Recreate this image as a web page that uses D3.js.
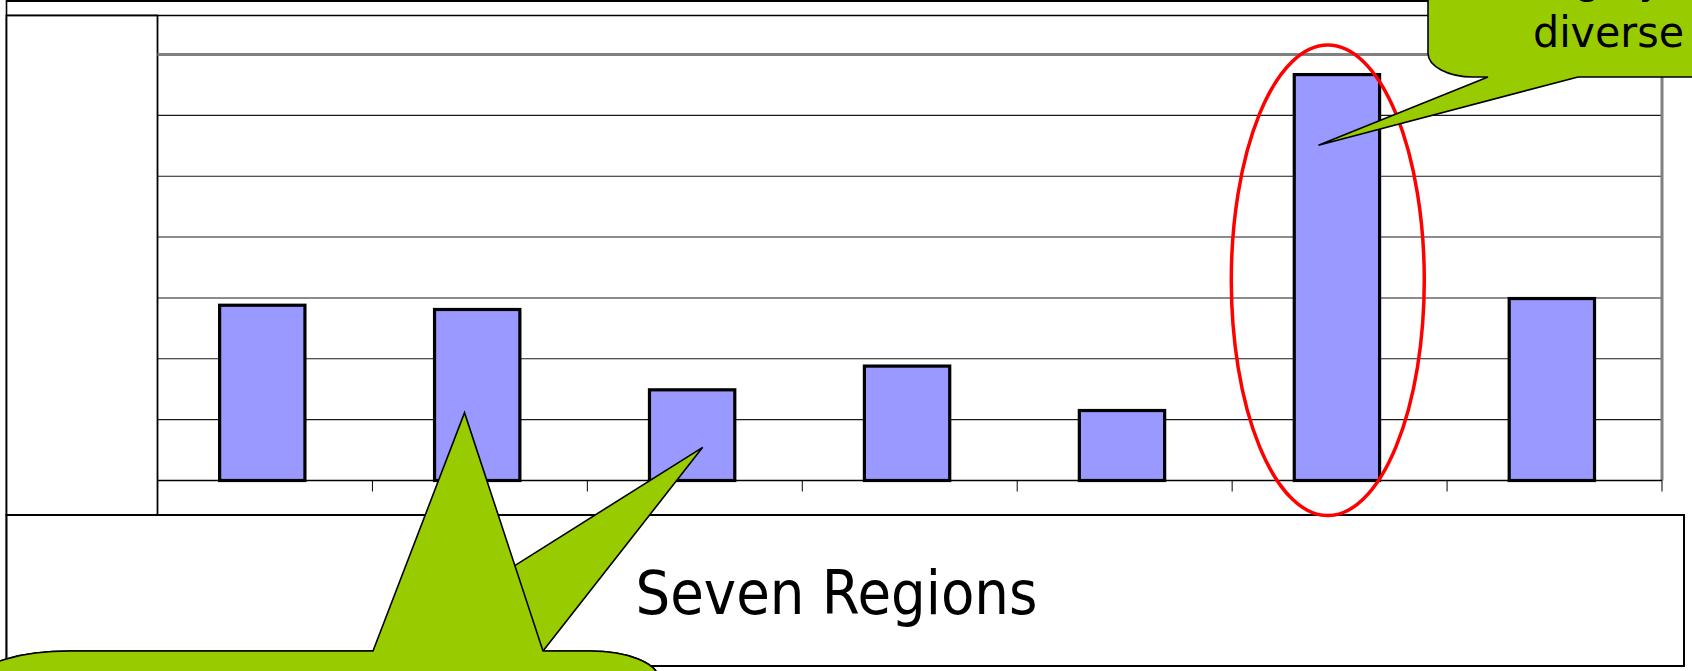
<!DOCTYPE html>
<html>
<head>
<meta charset="utf-8">
<script src="https://cdn.jsdelivr.net/npm/d3@7/dist/d3.min.js"></script>
<style>
  html, body { margin: 0; padding: 0; background: #fff; overflow: hidden; }
  svg { display: block; }
</style>
</head>
<body>
<svg id="chart" width="1692" height="671"></svg>
<script>
// Seven regions, one bar each
const categories = ["R1", "R2", "R3", "R4", "R5", "R6", "R7"];
const values = [28.8, 28.1, 14.9, 18.8, 11.5, 66.7, 29.9];
const yTicks = [0, 10, 20, 30, 40, 50, 60, 70];
const axisTitle = "Seven Regions";
const noteTop = ["Highly", "diverse"];

(function () {
  const W = 1692, H = 671;
  const plot = { left: 157.5, right: 1662, top: 54.5, bottom: 480.5 };

  const svg = d3.select("#chart");
  const font = "'DejaVu Sans', Tahoma, Verdana, sans-serif";

  const x = d3.scaleBand().domain(categories).range([plot.left, plot.right]).padding(0);
  const y = d3.scaleLinear().domain([0, 70]).range([plot.bottom, plot.top]);
  const step = x.step();

  // frame lines
  svg.append("line").attr("x1", 6.5).attr("x2", W).attr("y1", 1).attr("y2", 1)
    .attr("stroke", "#000").attr("stroke-width", 2);
  svg.append("line").attr("x1", 6.5).attr("x2", W).attr("y1", 15.5).attr("y2", 15.5)
    .attr("stroke", "#000").attr("stroke-width", 1.6);
  svg.append("line").attr("x1", 6.5).attr("x2", 6.5).attr("y1", 0).attr("y2", H)
    .attr("stroke", "#000").attr("stroke-width", 1.6);

  // box over the value axis
  svg.append("rect").attr("x", 6.5).attr("y", 15.5).attr("width", plot.left - 6.5).attr("height", 515 - 15.5)
    .attr("fill", "#fff").attr("stroke", "#000").attr("stroke-width", 1.8);

  // gridlines
  const grid = svg.append("g");
  grid.selectAll("line.g").data(yTicks.filter(t => t > 0 && t < 70)).join("line")
    .attr("class", "g")
    .attr("x1", plot.left).attr("x2", plot.right)
    .attr("y1", d => y(d)).attr("y2", d => y(d))
    .attr("stroke", "#1a1a1a").attr("stroke-width", 1.1);
  // top border of plot area (gray)
  grid.append("line")
    .attr("x1", plot.left).attr("x2", plot.right)
    .attr("y1", y(70)).attr("y2", y(70))
    .attr("stroke", "#808080").attr("stroke-width", 3);
  // right border of plot area (gray)
  grid.append("line")
    .attr("x1", plot.right).attr("x2", plot.right)
    .attr("y1", y(70)).attr("y2", y(0))
    .attr("stroke", "#808080").attr("stroke-width", 3);
  // baseline
  grid.append("line")
    .attr("x1", plot.left).attr("x2", plot.right)
    .attr("y1", y(0)).attr("y2", y(0))
    .attr("stroke", "#000").attr("stroke-width", 1.5);

  // category tick marks at band boundaries
  const bounds = categories.slice(1).map(c => x(c)).concat([plot.right]);
  grid.selectAll("line.t").data(bounds).join("line")
    .attr("class", "t")
    .attr("x1", d => d).attr("x2", d => d)
    .attr("y1", y(0)).attr("y2", y(0) + 11)
    .attr("stroke", "#000").attr("stroke-width", 1);

  // bars
  svg.append("g").selectAll("rect").data(values).join("rect")
    .attr("x", (d, i) => x(categories[i]) + step * 0.289)
    .attr("width", step * 0.397)
    .attr("y", d => y(d))
    .attr("height", d => y(0) - y(d))
    .attr("fill", "#9999ff")
    .attr("stroke", "#000")
    .attr("stroke-width", 3.2);

  // axis title box
  svg.append("rect").attr("x", 6.5).attr("y", 515).attr("width", 1684 - 6.5).attr("height", 666 - 515)
    .attr("fill", "#fff").attr("stroke", "#000").attr("stroke-width", 2);
  svg.append("text")
    .attr("x", 635.5).attr("y", 613.5)
    .attr("font-family", font).attr("font-size", 60)
    .attr("textLength", 402).attr("lengthAdjust", "spacingAndGlyphs")
    .attr("fill", "#000")
    .text(axisTitle);

  // highlight ring around the tallest bar
  const peak = categories[values.indexOf(d3.max(values))];
  svg.append("ellipse")
    .attr("cx", x(peak) + step * 0.445)
    .attr("cy", 280.3)
    .attr("rx", 96.5).attr("ry", 235.3)
    .attr("fill", "none").attr("stroke", "#ff0000").attr("stroke-width", 3.5);

  // callout pointing into the tallest bar
  const tipTop = [x(peak) + step * 0.4015, y(55.1)];
  const pTop = `M1428,-60 L1428,53 A45,24 0 0 0 1473,77 L1488,77 L${tipTop[0]},${tipTop[1]} L1578,77 L1760,77 L1760,-60 Z`;
  svg.append("path").attr("d", pTop)
    .attr("fill", "#99cc00").attr("stroke", "#000").attr("stroke-width", 1.6);
  svg.append("text")
    .attr("x", 1533).attr("y", -7)
    .attr("font-family", font).attr("font-size", 43)
    .attr("textLength", 130).attr("lengthAdjust", "spacingAndGlyphs")
    .text(noteTop[0]);
  svg.append("text")
    .attr("x", 1533).attr("y", 46.7)
    .attr("font-family", font).attr("font-size", 43)
    .attr("textLength", 151).attr("lengthAdjust", "spacingAndGlyphs")
    .text(noteTop[1]);

  // callout with two pointers into the second and third bars
  const tipA = [x(categories[2]) + step * 0.5365, y(5.45)];
  const tipB = [x(categories[1]) + step * 0.4285, y(11.14)];
  const body = (baseL, tip) =>
    `M-20,720 L-20,678 A90,27 0 0 1 70,651 L${baseL},651 L${tip[0]},${tip[1]} L543,651 L590,651 A68,27 0 0 1 658,678 L658,720 Z`;
  svg.append("path").attr("d", body(379, tipA))
    .attr("fill", "#99cc00").attr("stroke", "#000").attr("stroke-width", 1.6);
  svg.append("path").attr("d", body(373, tipB))
    .attr("fill", "#99cc00").attr("stroke", "#000").attr("stroke-width", 1.6);
})();
</script>
</body>
</html>
